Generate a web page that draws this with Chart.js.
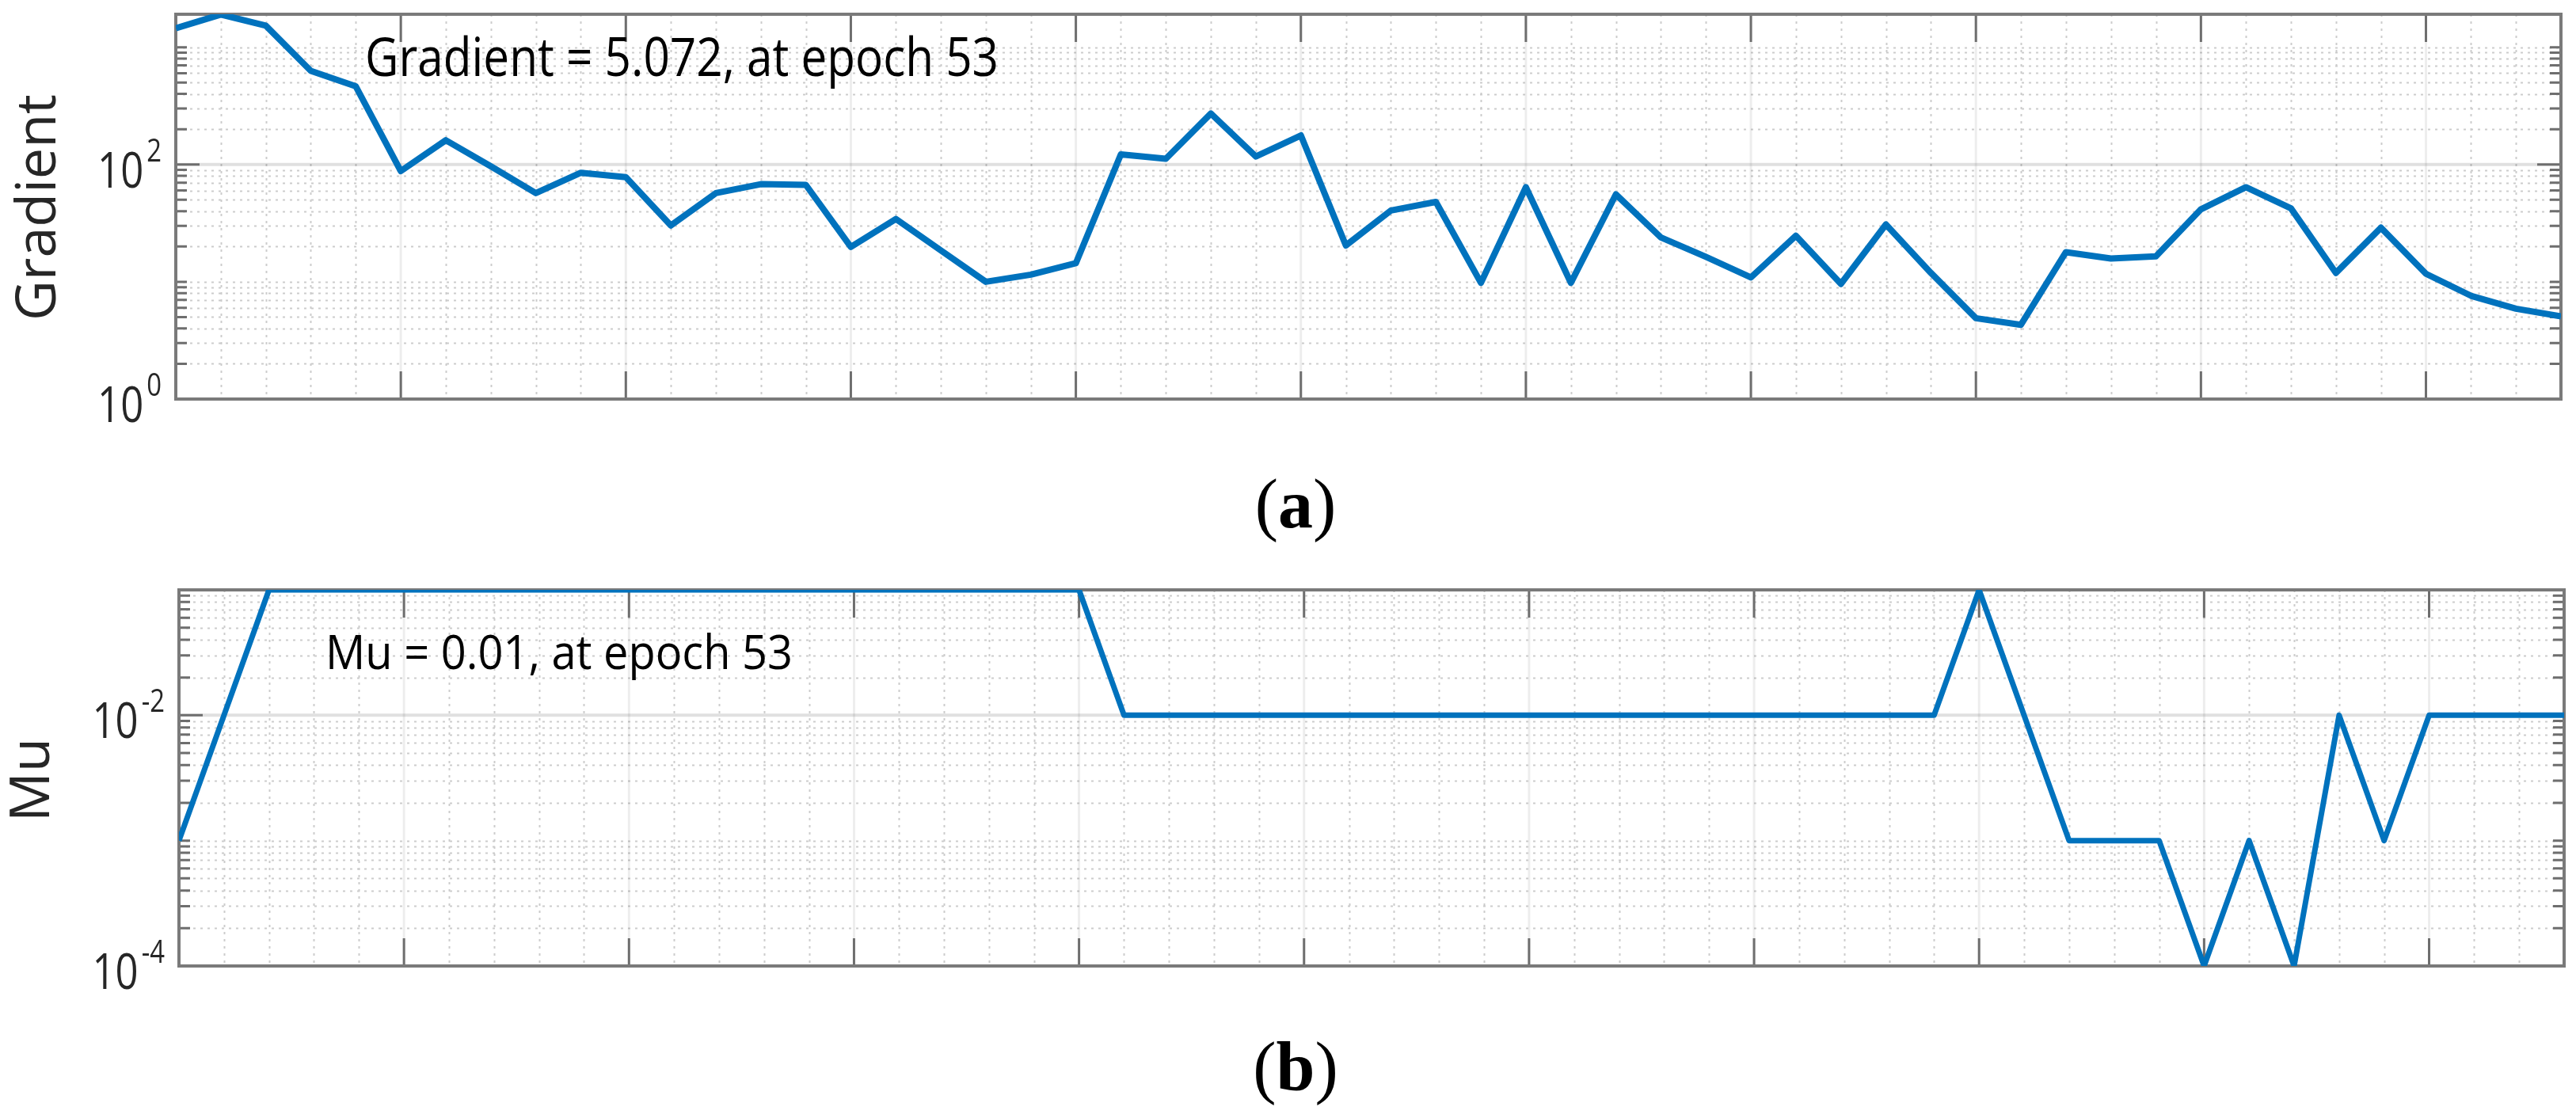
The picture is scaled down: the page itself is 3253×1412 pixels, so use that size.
<!DOCTYPE html>
<html>
<head>
<meta charset="utf-8">
<title>Gradient / Mu</title>
<script src="https://cdn.jsdelivr.net/npm/chart.js@4.4.1/dist/chart.umd.min.js"></script>
<style>
  html, body { margin: 0; padding: 0; background: #fff; }
  body { width: 3253px; height: 1412px; position: relative; overflow: hidden; }
  canvas { position: absolute; left: 0; }
  #gradCanvas { top: 0; }
  #muCanvas { top: 600px; }
  .sub {
    position: absolute; left: 1486px; width: 300px; text-align: center;
    font-family: "Liberation Serif", "DejaVu Serif", serif;
    font-size: 88px; line-height: 88px; color: #000;
  }
</style>
</head>
<body>
<canvas id="gradCanvas" width="3253" height="600"></canvas>
<canvas id="muCanvas" width="3253" height="812"></canvas>
<div class="sub" style="top:593px">(<b>a</b>)</div>
<div class="sub" style="top:1304px">(<b>b</b>)</div>

<script>
// epochs 0..53
const epochs = [0, 1, 2, 3, 4, 5, 6, 7, 8, 9, 10, 11, 12, 13, 14, 15, 16, 17, 18, 19,
  20, 21, 22, 23, 24, 25, 26, 27, 28, 29, 30, 31, 32, 33, 34, 35, 36, 37, 38, 39,
  40, 41, 42, 43, 44, 45, 46, 47, 48, 49, 50, 51, 52, 53];

// gradient per epoch
const gradient = [1453, 1900, 1529, 629, 464, 87.9, 161, 96.7, 57, 85,
  78, 30.2, 57, 68, 67, 19.8, 34.3, 18.5, 10.0, 11.5,
  14.4, 122, 112, 272, 117, 177, 20.4, 40.5, 48, 9.8,
  64, 9.8, 55.6, 23.9, 16.3, 10.9, 24.7, 9.6, 30.8, 11.9,
  4.89, 4.3, 17.9, 15.8, 16.5, 41.5, 64, 42.3, 11.9, 28.9,
  11.7, 7.6, 5.9, 5.072];

// mu per epoch
const mu = [1e-3, 1e-2, 0.1, 0.1, 0.1, 0.1, 0.1, 0.1, 0.1, 0.1,
  0.1, 0.1, 0.1, 0.1, 0.1, 0.1, 0.1, 0.1, 0.1, 0.1,
  0.1, 1e-2, 1e-2, 1e-2, 1e-2, 1e-2, 1e-2, 1e-2, 1e-2, 1e-2,
  1e-2, 1e-2, 1e-2, 1e-2, 1e-2, 1e-2, 1e-2, 1e-2, 1e-2, 1e-2,
  0.1, 1e-2, 1e-3, 1e-3, 1e-3, 1e-4, 1e-3, 1e-4, 1e-2, 1e-3,
  1e-2, 1e-2, 1e-2, 1e-2];

// labelled y ticks (exponents of 10) and major x ticks
const gradTickExp = [0, 2];
const muTickExp = [-4, -2];
const xMajor = [5, 10, 15, 20, 25, 30, 35, 40, 45, 50];

const SQ = 0.82; // the original figure is squeezed horizontally

function squeezed(ctx, text, x, y, sx) {
  ctx.save();
  ctx.translate(x, y);
  ctx.scale(sx, 1);
  ctx.fillText(text, 0, 0);
  ctx.restore();
}

function minorValues(min, max, skip) {
  const out = [];
  for (let d = Math.floor(Math.log10(min)); d <= Math.ceil(Math.log10(max)); d++) {
    for (let m = 1; m <= 9; m++) {
      const v = m * Math.pow(10, d);
      if (v < min * 1.0001 || v > max * 0.9999) continue;
      if (m === 1 && skip.includes(d)) continue;
      out.push(v);
    }
  }
  return out;
}

// MATLAB-like axes: box, grids, ticks, labels
const axisFrame = {
  id: 'axisFrame',
  beforeDatasetsDraw(chart, args, opts) {
    const { ctx, chartArea: a } = chart;
    const x = chart.scales.x, y = chart.scales.y;
    const minors = minorValues(y.min, y.max, opts.tickExp);
    ctx.save();

    // minor grid (dotted)
    ctx.setLineDash([3, 6]);
    ctx.lineWidth = 2;
    ctx.strokeStyle = 'rgba(0,0,0,0.2)';
    ctx.beginPath();
    minors.forEach(v => {
      const py = Math.round(y.getPixelForValue(v)) + 0.5;
      ctx.moveTo(a.left, py); ctx.lineTo(a.right, py);
    });
    epochs.forEach(e => {
      if (e === 0 || e === 53 || xMajor.includes(e)) return;
      const px = Math.round(x.getPixelForValue(e)) + 0.5;
      ctx.moveTo(px, a.top); ctx.lineTo(px, a.bottom);
    });
    ctx.stroke();

    // major grid (solid, faint)
    ctx.setLineDash([]);
    ctx.lineWidth = 4;
    ctx.strokeStyle = 'rgba(0,0,0,0.12)';
    ctx.beginPath();
    opts.tickExp.forEach(ex => {
      const py = y.getPixelForValue(Math.pow(10, ex));
      if (py <= a.top + 2 || py >= a.bottom - 2) return;
      ctx.moveTo(a.left, py); ctx.lineTo(a.right, py);
    });
    ctx.stroke();
    ctx.lineWidth = 3;
    ctx.strokeStyle = 'rgba(0,0,0,0.07)';
    ctx.beginPath();
    xMajor.forEach(e => {
      const px = x.getPixelForValue(e);
      ctx.moveTo(px, a.top); ctx.lineTo(px, a.bottom);
    });
    ctx.stroke();

    // tick marks, inside, on all four sides
    ctx.strokeStyle = '#6e6e6e';
    ctx.lineWidth = 3;
    ctx.beginPath();
    minors.forEach(v => {
      const py = y.getPixelForValue(v);
      ctx.moveTo(a.left, py); ctx.lineTo(a.left + 14, py);
      ctx.moveTo(a.right, py); ctx.lineTo(a.right - 14, py);
    });
    opts.tickExp.forEach(ex => {
      const py = y.getPixelForValue(Math.pow(10, ex));
      ctx.moveTo(a.left, py); ctx.lineTo(a.left + 30, py);
      ctx.moveTo(a.right, py); ctx.lineTo(a.right - 30, py);
    });
    xMajor.forEach(e => {
      const px = x.getPixelForValue(e);
      ctx.moveTo(px, a.bottom); ctx.lineTo(px, a.bottom - 35);
      ctx.moveTo(px, a.top); ctx.lineTo(px, a.top + 35);
    });
    ctx.stroke();

    // box
    ctx.strokeStyle = '#7a7a7a';
    ctx.lineWidth = 4;
    ctx.strokeRect(a.left, a.top, a.right - a.left, a.bottom - a.top);
    ctx.restore();
  },
  afterDraw(chart, args, opts) {
    const { ctx, chartArea: a } = chart;
    const y = chart.scales.y;
    ctx.save();
    ctx.fillStyle = '#262626';
    ctx.textBaseline = 'alphabetic';
    ctx.textAlign = 'left';

    // 10^n tick labels
    opts.tickExp.forEach(ex => {
      const py = y.getPixelForValue(Math.pow(10, ex));
      const sup = String(ex);
      ctx.font = '62px "Open Sans"';
      const bw = ctx.measureText('10').width * SQ;
      ctx.font = '40px "Open Sans"';
      const sw = ctx.measureText(sup).width * SQ;
      const left = a.left - 18 - sw - 4 - bw;
      ctx.font = '62px "Open Sans"';
      squeezed(ctx, '10', left, py + 29, SQ);
      ctx.font = '40px "Open Sans"';
      squeezed(ctx, sup, left + bw + 4, py - 4, SQ);
    });

    // y title
    ctx.save();
    ctx.translate(opts.titleX, opts.titleY);
    ctx.rotate(-Math.PI / 2);
    ctx.font = '70px "Open Sans"';
    ctx.textAlign = 'center';
    ctx.textBaseline = 'middle';
    ctx.fillText(opts.title, 0, 0);
    ctx.restore();

    // note text inside the axes
    ctx.fillStyle = '#000';
    ctx.font = opts.noteFont;
    const w = ctx.measureText(opts.note).width;
    squeezed(ctx, opts.note, opts.noteX, opts.noteY, opts.noteW / w);
    ctx.restore();
  }
};

function makeChart(id, values, yMin, yMax, pad, lw, frame) {
  return new Chart(document.getElementById(id), {
    type: 'line',
    data: {
      datasets: [{
        data: epochs.map((e, i) => ({ x: e, y: values[i] })),
        borderColor: '#0072BD',
        borderWidth: lw,
        borderJoinStyle: 'round',
        pointRadius: 0,
        tension: 0,
        fill: false
      }]
    },
    options: {
      responsive: false,
      animation: false,
      devicePixelRatio: 1,
      layout: { padding: pad },
      plugins: {
        legend: { display: false },
        tooltip: { enabled: false },
        axisFrame: frame
      },
      scales: {
        x: { type: 'linear', min: 0, max: 53, display: false },
        y: { type: 'logarithmic', min: yMin, max: yMax, display: false }
      }
    },
    plugins: [axisFrame]
  });
}

Promise.all([
  document.fonts.load('60px "Open Sans"'),
  document.fonts.load('88px "Liberation Serif"')
]).catch(() => {}).then(() => {
  makeChart('gradCanvas', gradient, 1, 1910,
    { left: 222, right: 19, top: 18, bottom: 96 }, 8,
    {
      tickExp: gradTickExp, title: 'Gradient', titleX: 50, titleY: 262,
      note: 'Gradient = 5.072, at epoch 53', noteFont: '68px "Open Sans"',
      noteX: 461, noteY: 96, noteW: 800
    });

  makeChart('muCanvas', mu, 1e-4, 1e-1,
    { left: 226, right: 15, top: 145, bottom: 192 }, 7,
    {
      tickExp: muTickExp, title: 'Mu', titleX: 42, titleY: 385,
      note: 'Mu = 0.01, at epoch 53', noteFont: '60px "Open Sans"',
      noteX: 411, noteY: 245, noteW: 590
    });
});
</script>
</body>
</html>
